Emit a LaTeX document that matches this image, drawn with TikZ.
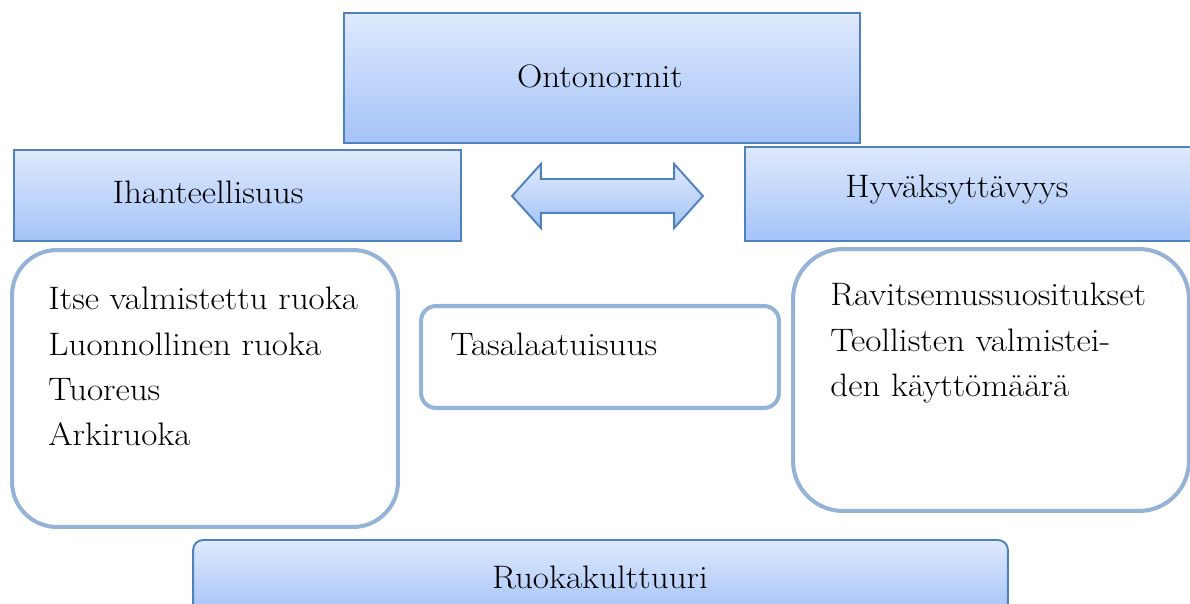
\documentclass[tikz,border=0pt]{standalone}
\usepackage{fontspec}
\setmainfont{Latin Modern Roman}[FakeStretch=1.08]
\usetikzlibrary{shapes.arrows}

\definecolor{gradtop}{HTML}{DFE9FD}
\definecolor{gradbot}{HTML}{A4C3F7}
\definecolor{boxline}{HTML}{4F81BD}
\definecolor{roundline}{HTML}{95B3D7}

\begin{document}
\begin{tikzpicture}[x=0.02cm, y=-0.02cm,
    gradbox/.style={draw=boxline, line width=1.1pt, top color=gradtop, bottom color=gradbot},
    roundbox/.style={draw=roundline, line width=2.3pt, fill=white},
    word/.style={inner sep=0pt, font=\fontsize{18.5}{25.8}\selectfont},
    listtext/.style={word, align=left, anchor=north west}]
    \clip (0,0) rectangle (1190,604);

    \node[gradbox, minimum width=10.32cm, minimum height=2.6cm] (onto) at (602,78) {};
    \node[gradbox, minimum width=8.94cm, minimum height=1.82cm] (ihan) at (237.5,195.5) {};
    \node[gradbox, minimum width=8.94cm, minimum height=1.88cm] (hyva) at (968.5,194) {};
    \node[gradbox, rounded corners=0.2cm, minimum width=16.3cm, minimum height=1.48cm] (ruoka) at (600.5,577) {};

    \node[word] (ontotext) at (600,76) {Ontonormit};
    \node[word] (ihantext) at (208,192) {Ihanteellisuus};
    \node[word] (hyvatext) at (957,190) {Hyväksyttävyys};
    \node[word] (ruokatext) at (600,577) {Ruokakulttuuri};

    \node[gradbox, double arrow, double arrow tip angle=96, double arrow head extend=0.3cm,
          inner xsep=0pt, inner ysep=0.32cm, minimum height=3.82cm] (arrow) at (607.5,196) {};

    \node[roundbox, rounded corners=0.9cm, minimum width=7.72cm, minimum height=5.54cm] (left) at (205,388.5) {};
    \node[roundbox, rounded corners=0.3cm, minimum width=7.16cm, minimum height=2.04cm] (mid) at (600,357) {};
    \node[roundbox, rounded corners=1cm, minimum width=7.92cm, minimum height=5.24cm] (right) at (991,380) {};

    \node[listtext] (lefttext) at (48,287) {Itse valmistettu ruoka\\Luonnollinen ruoka\\Tuoreus\\Arkiruoka};
    \node[listtext] (midtext) at (450,333) {Tasalaatuisuus};
    \node[listtext] (righttext) at (830,283) {Ravitsemussuositukset\\Teollisten valmistei-\\den käyttömäärä};

\end{tikzpicture}
\end{document}
